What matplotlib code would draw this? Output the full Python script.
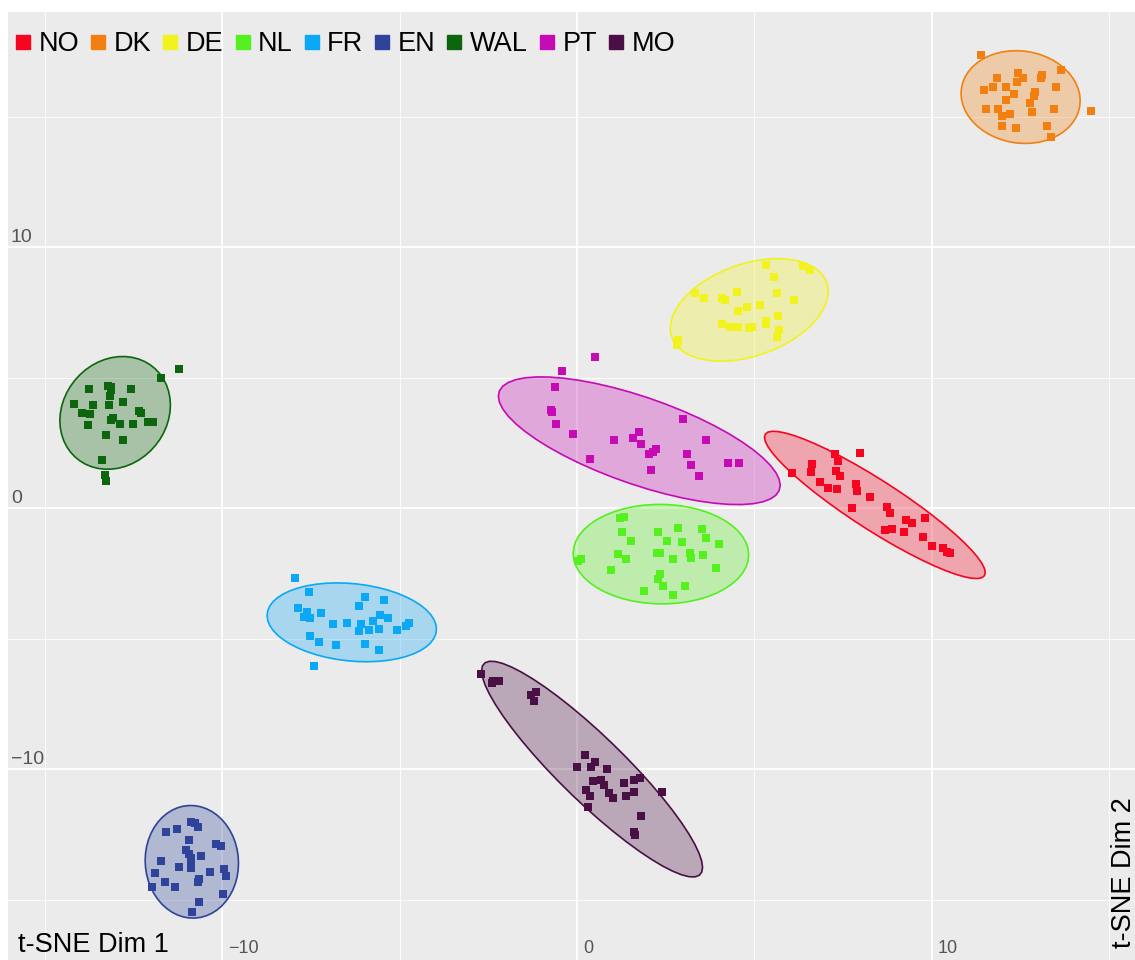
import numpy as np
import matplotlib
matplotlib.use("Agg")
import matplotlib.pyplot as plt
from matplotlib.lines import Line2D
from matplotlib.patches import Polygon

plt.rcParams['font.family'] = ['Liberation Sans', 'DejaVu Sans']

# t-SNE coordinates, one array per language group
NO = np.array([(7.97, 2.11), (7.27, 2.07), (7.35, 1.80), (6.62, 1.69), (6.59, 1.38),
               (6.06, 1.34), (7.30, 1.42), (7.41, 1.26), (6.85, 1.03), (7.07, 0.77),
               (7.32, 0.73), (7.86, 0.92), (7.89, 0.65), (8.25, 0.42), (7.75, 0.00),
               (8.73, 0.04), (8.82, -0.19), (9.27, -0.46), (9.44, -0.57), (9.80, -0.38),
               (8.87, -0.77), (8.68, -0.84), (9.21, -0.92), (9.75, -1.11), (10.00, -1.42),
               (10.31, -1.53), (10.42, -1.65), (10.51, -1.72)])
DK = np.array([(11.38, 17.36), (12.42, 16.67), (12.56, 16.48), (12.39, 16.32), (11.83, 16.48),
               (13.07, 16.51), (13.10, 16.59), (13.63, 16.78), (11.46, 16.05), (11.72, 16.13),
               (12.08, 16.13), (12.31, 15.86), (12.90, 15.94), (12.87, 15.79), (13.49, 16.13),
               (12.08, 15.63), (12.76, 15.52), (11.52, 15.29), (11.86, 15.29), (11.97, 15.02),
               (12.20, 15.13), (12.82, 15.17), (13.44, 15.29), (14.48, 15.21), (11.97, 14.64),
               (12.37, 14.56), (13.24, 14.64), (13.35, 14.25)])
DE = np.array([(5.32, 9.31), (6.37, 9.27), (6.56, 9.12), (5.55, 8.85), (3.32, 8.24),
               (3.58, 8.05), (4.51, 8.28), (4.08, 8.08), (4.17, 7.97), (5.63, 8.24),
               (6.11, 7.97), (4.79, 7.70), (4.54, 7.55), (5.15, 7.78), (5.66, 7.39),
               (4.08, 7.05), (4.31, 6.97), (4.54, 6.97), (4.85, 6.93), (4.93, 6.97),
               (5.32, 7.20), (5.32, 7.05), (5.69, 6.82), (5.63, 6.55), (2.85, 6.44),
               (2.82, 6.28)])
NL = np.array([(1.21, -0.38), (1.32, -0.34), (1.27, -0.92), (1.52, -1.26), (2.28, -0.92),
               (2.85, -0.73), (3.52, -0.77), (2.54, -1.26), (2.96, -1.30), (3.63, -1.15),
               (4.00, -1.38), (1.15, -1.76), (1.38, -1.95), (2.25, -1.69), (2.34, -1.69),
               (2.70, -1.95), (3.18, -1.72), (3.21, -1.88), (3.55, -1.80), (0.11, -1.95),
               (0.03, -2.03), (0.96, -2.34), (3.92, -2.30), (2.34, -2.53), (2.28, -2.72),
               (2.42, -2.99), (3.04, -2.99), (1.89, -3.18), (2.70, -3.33)])
FR = np.array([(-7.94, -2.68), (-7.55, -3.22), (-5.97, -3.41), (-5.44, -3.52), (-6.14, -3.75),
               (-7.86, -3.83), (-7.61, -3.95), (-7.69, -4.14), (-7.52, -4.18), (-7.21, -4.02),
               (-5.55, -4.10), (-5.32, -4.18), (-6.87, -4.41), (-6.48, -4.37), (-6.08, -4.41),
               (-5.75, -4.33), (-4.73, -4.37), (-4.82, -4.52), (-5.86, -4.64), (-5.58, -4.60),
               (-6.14, -4.71), (-5.07, -4.67), (-7.52, -4.87), (-7.27, -5.13), (-6.79, -5.25),
               (-5.97, -5.21), (-5.58, -5.44), (-7.41, -6.05)])
EN = np.array([(-10.87, -12.03), (-10.76, -12.07), (-10.68, -12.22), (-11.58, -12.38),
               (-11.27, -12.30), (-10.93, -12.72), (-10.17, -12.84), (-10.03, -12.95),
               (-11.01, -13.07), (-10.93, -13.22), (-10.59, -13.30), (-10.87, -13.41),
               (-10.87, -13.56), (-11.72, -13.49), (-11.21, -13.75), (-10.87, -13.79),
               (-10.34, -13.91), (-9.94, -13.83), (-9.89, -14.10), (-11.89, -13.95),
               (-11.61, -14.33), (-10.65, -14.21), (-10.68, -14.33), (-11.32, -14.52),
               (-11.97, -14.52), (-9.97, -14.79), (-10.65, -15.06), (-10.85, -15.48)])
WAL = np.array([(-11.21, 5.33), (-11.72, 4.98), (-13.75, 4.56), (-13.21, 4.71), (-13.13, 4.67),
                (-13.13, 4.52), (-12.56, 4.56), (-13.15, 4.29), (-14.17, 4.02), (-13.63, 3.98),
                (-13.18, 3.98), (-12.79, 4.06), (-13.94, 3.64), (-13.72, 3.60), (-12.34, 3.72),
                (-12.28, 3.64), (-13.77, 3.18), (-13.13, 3.37), (-13.07, 3.45), (-12.87, 3.22),
                (-12.51, 3.22), (-12.08, 3.33), (-11.94, 3.30), (-13.27, 2.80), (-12.79, 2.64),
                (-13.38, 1.84), (-13.30, 1.30), (-13.27, 1.07)])
PT = np.array([(0.51, 5.82), (-0.42, 5.25), (-0.62, 4.64), (-0.73, 3.79), (-0.70, 3.68),
               (-0.59, 3.22), (-0.11, 2.87), (1.04, 2.64), (1.75, 2.91), (1.58, 2.68),
               (1.80, 2.45), (2.23, 2.26), (2.14, 2.15), (2.03, 2.07), (0.37, 1.88),
               (2.08, 1.49), (2.99, 3.41), (3.63, 2.61), (3.10, 2.07), (3.21, 1.65),
               (3.44, 1.26), (4.25, 1.76), (4.56, 1.76)])
MO = np.array([(-2.70, -6.36), (-2.39, -6.70), (-2.37, -6.63), (-2.20, -6.63), (-1.30, -7.13),
               (-1.15, -7.05), (-1.21, -7.39), (0.23, -9.46), (0.00, -9.89), (0.39, -9.89),
               (0.51, -9.73), (0.85, -10.00), (0.45, -10.46), (0.68, -10.42), (0.76, -10.61),
               (0.25, -10.77), (0.37, -11.00), (0.90, -10.92), (1.01, -11.11), (1.32, -10.50),
               (1.61, -10.42), (1.77, -10.34), (1.61, -10.88), (1.38, -11.03), (2.39, -10.88),
               (0.31, -11.42), (1.80, -11.80), (1.61, -12.41), (1.63, -12.53)])

groups = ['NO', 'DK', 'DE', 'NL', 'FR', 'EN', 'WAL', 'PT', 'MO']
points = [NO, DK, DE, NL, FR, EN, WAL, PT, MO]
colors = ['#F5051F', '#F28010', '#F2F21E', '#55F01E', '#0AA8F5',
          '#2E4399', '#0D660D', '#C60AB4', '#4A0F45']


# robust t covariance, like MASS::cov.trob used by ggplot's stat_ellipse
def cov_trob(xy, nu=5, tol=1e-4, maxit=100):
    n, p = xy.shape
    loc = xy.mean(axis=0)
    w = np.ones(n)
    for _ in range(maxit):
        w0 = w
        X = xy - loc
        S = (w[:, None] * X).T @ X / w.sum()
        Q = np.einsum('ij,jk,ik->i', X, np.linalg.inv(S), X)
        w = (nu + p) / (nu + Q)
        loc = (w[:, None] * xy).sum(axis=0) / w.sum()
        if np.all(np.abs(w - w0) < tol):
            break
    X = xy - loc
    return loc, (w[:, None] * X).T @ X / n


def ellipse_path(xy, level=0.95, segments=51):
    center, shape = cov_trob(xy)
    d = len(xy) - 1
    # 2 * qf(level, 2, d), closed form for 2 numerator df
    r = np.sqrt(d * ((1 - level) ** (-2.0 / d) - 1))
    t = np.linspace(0, 2 * np.pi, segments)
    circle = np.column_stack([np.cos(t), np.sin(t)])
    L = np.linalg.cholesky(shape)
    return center + r * circle @ L.T


W, H = 1135, 960
fig = plt.figure(figsize=(W / 100, H / 100), dpi=100)
ax = fig.add_axes([8 / W, 0, 1 - 8 / W, 1 - 12 / H])
ax.set_facecolor('#EBEBEB')
ax.set_xlim(-16.03, 15.72)
ax.set_ylim(-17.3, 19.02)

# ggplot-style grid
for v in [-10, 0, 10]:
    ax.axvline(v, color='white', lw=1.3, zorder=0)
    ax.axhline(v, color='white', lw=1.3, zorder=0)
for v in [-15, -5, 5, 15]:
    ax.axvline(v, color='white', lw=0.6, zorder=0)
    ax.axhline(v, color='white', lw=0.6, zorder=0)

for pts, c in zip(points, colors):
    ell = ellipse_path(pts)
    ax.add_patch(Polygon(ell, closed=True, facecolor=c, alpha=0.3, edgecolor='none', zorder=1))
    ax.add_patch(Polygon(ell, closed=True, facecolor='none', edgecolor=c, lw=1.2, zorder=2))

for pts, c in zip(points, colors):
    ax.scatter(pts[:, 0], pts[:, 1], marker='s', s=30, color=c, linewidths=0, zorder=3)

ax.set_xticks([])
ax.set_yticks([])
for s in ax.spines.values():
    s.set_visible(False)

# tick labels drawn inside the panel
for v in [-10, 0, 10]:
    lab = '\u2212' + str(abs(v)) if v < 0 else str(v)
    ax.annotate(lab, xy=(v, 0), xycoords=('data', 'figure fraction'),
                xytext=(6, 3), textcoords='offset pixels',
                ha='left', va='bottom', fontsize=13, color='#555555')
    ax.annotate(lab, xy=(0, v), xycoords=('figure fraction', 'data'),
                xytext=(11, 1), textcoords='offset pixels',
                ha='left', va='bottom', fontsize=14, color='#555555')

fig.text(18 / W, 2 / H, 't-SNE Dim 1', fontsize=19.5, ha='left', va='bottom')
fig.text(1.0 + 2 / W, 12 / H, 't-SNE Dim 2', fontsize=19.5, rotation=90, ha='right', va='bottom')

handles = [Line2D([], [], marker='s', linestyle='none', markersize=9.6, color=c) for c in colors]
ax.legend(handles, groups, loc='upper left', bbox_to_anchor=(16 / W, 1 - 31 / H),
          bbox_transform=fig.transFigure, ncol=9, frameon=False, fontsize=19.5,
          handlelength=0.55, handletextpad=0.3, columnspacing=0.42,
          borderpad=0, borderaxespad=0)

fig.savefig('out.png', dpi=100)
